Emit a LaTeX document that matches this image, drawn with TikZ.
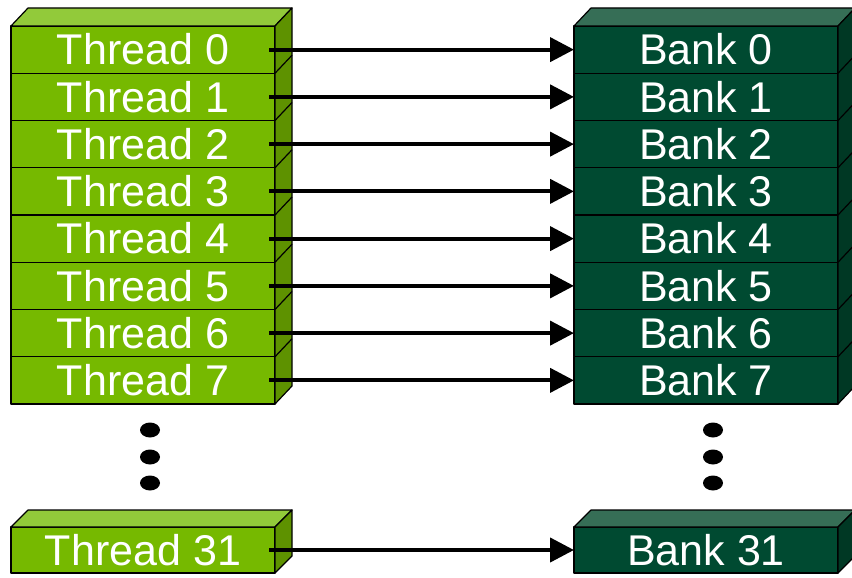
\documentclass[tikz,border=0pt]{standalone}
\usepackage{fontspec}
\setmainfont{Liberation Sans}
\usetikzlibrary{arrows.meta}
\definecolor{tfront}{RGB}{118,185,0}
\definecolor{ttop}{RGB}{146,202,58}
\definecolor{tside}{RGB}{94,146,0}
\definecolor{bfront}{RGB}{0,74,49}
\definecolor{btop}{RGB}{54,110,86}
\definecolor{bside}{RGB}{0,56,36}
\tikzset{
  face/.style={draw=black, line width=1.2pt, line join=round},
  thr/.style={face, fill=tfront, minimum width=264pt, minimum height=47.25pt, inner sep=0pt, outer sep=0pt, text=white, font=\fontsize{43}{43}\selectfont},
  bnk/.style={thr, fill=bfront},
  thr31/.style={thr, minimum height=46pt},
  bnk31/.style={bnk, minimum height=46pt},
  conn/.style={line width=4.2pt, -{Triangle[length=24pt,width=24pt]}},
  dotmark/.style={fill=black}
}
\begin{document}
\begin{tikzpicture}[x=1pt,y=-1pt]
\useasboundingbox (0,0) rectangle (852,578);
\clip (0,0) rectangle (852,578);
% front faces
\foreach \i in {0,...,7}{
  \node[thr] (t\i) at (143,{26+47.25*\i+23.625}) {Thread \i};
  \node[bnk] (b\i) at (706,{26+47.25*\i+23.625}) {Bank \i};
}
\node[thr31] (t31) at (143,550) {Thread 31};
\node[bnk31] (b31) at (706,550) {Bank 31};
% thread stack top and side
\draw[face, fill=ttop] (t0.north west) -- ++(17,-18) -- ++(264,0) -- (t0.north east) -- cycle;
\draw[face, fill=tside] (t0.north east) -- ++(17,-18) -- ([shift={(17,-18)}]t7.south east) -- (t7.south east) -- cycle;
\foreach \i in {0,...,6}{ \draw[face] (t\i.south east) -- ++(17,-18); }
% bank stack top and side
\draw[face, fill=btop] (b0.north west) -- ++(17,-18) -- ++(264,0) -- (b0.north east) -- cycle;
\draw[face, fill=bside] (b0.north east) -- ++(17,-18) -- ([shift={(17,-18)}]b7.south east) -- (b7.south east) -- cycle;
\foreach \i in {0,...,6}{ \draw[face] (b\i.south east) -- ++(17,-18); }
% thread 31 box
\draw[face, fill=ttop] (t31.north west) -- ++(17,-17) -- ++(264,0) -- (t31.north east) -- cycle;
\draw[face, fill=tside] (t31.north east) -- ++(17,-17) -- ([shift={(17,-17)}]t31.south east) -- (t31.south east) -- cycle;
% bank 31 box
\draw[face, fill=btop] (b31.north west) -- ++(17,-17) -- ++(264,0) -- (b31.north east) -- cycle;
\draw[face, fill=bside] (b31.north east) -- ++(17,-17) -- ([shift={(17,-17)}]b31.south east) -- (b31.south east) -- cycle;
% arrows
\foreach \i in {0,...,7}{ \draw[conn] ([xshift=-6pt]t\i.east) -- (b\i.west); }
\draw[conn] ([xshift=-6pt]t31.east) -- (b31.west);
% dots
\foreach \y in {430,457,483}{
  \fill[dotmark] (150,\y) ellipse [x radius=10pt, y radius=7.5pt];
  \fill[dotmark] (713,\y) ellipse [x radius=10pt, y radius=7.5pt];
}
\end{tikzpicture}
\end{document}
